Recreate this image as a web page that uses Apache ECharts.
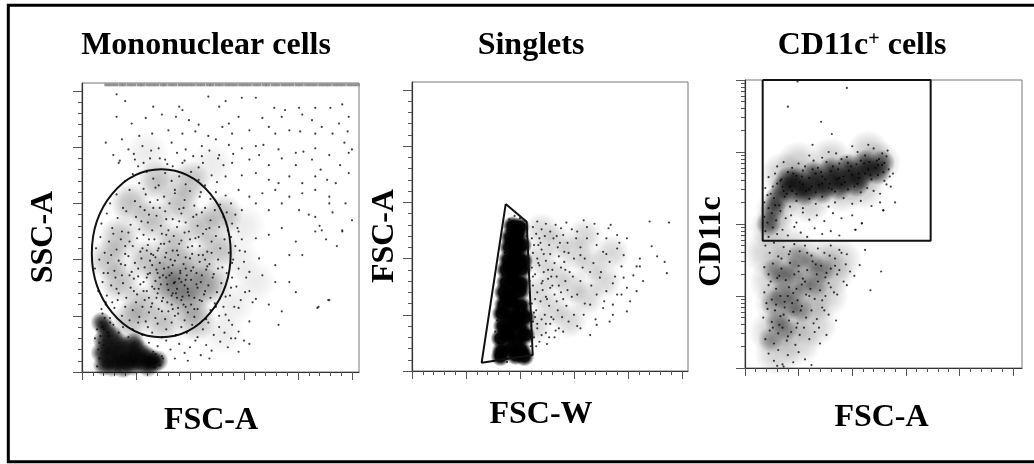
<!DOCTYPE html>
<html><head><meta charset="utf-8">
<script src="https://cdn.jsdelivr.net/npm/echarts@6/dist/echarts.min.js"></script>
<style>html,body{margin:0;padding:0;background:#fff}#c{width:1034px;height:464px}</style>
</head><body><div id="c"></div>
<script>
// ---------- Panel 1: Mononuclear cells (FSC-A vs SSC-A, linear, x1000) ----------
const p1Titles = ['Mononuclear cells', 'FSC-A', 'SSC-A'];
const p1XMax = 256.5, p1YMax = 257.1;
const p1XMajor = [0, 50, 100, 150, 200, 250];
const p1XMinor = [10,20,30,40,60,70,80,90,110,120,130,140,160,170,180,190,210,220,230,240];
const p1YMajor = [0, 50, 100, 150, 200, 250];
const p1YMinor = [10,20,30,40,60,70,80,90,110,120,130,140,160,170,180,190,210,220,230,240];
const p1Gate = [[73.4, 105.6, 64.3, 74.7]]; // ellipse: cx, cy, rx, ry
const p1SatY = 255.5;
const p1SatX = [23,27,31,36,39,44,48,53,56,61,65,69,74,77,82,86,91,95,99,103,108,112,117,120,125,129,134,138,142,147,151,155,160,164,169,172,177,181,186,190,194,199,203,208,212,216,221,225,229,234,238,242,247,251,255];
const p1Cloud = [[35,80],[35,120],[45,150],[55,60],[60,100],[65,135],[70,170],[80,75],[85,115],[90,150],[100,60],[105,95],[110,130],[120,80],[125,110],[75,45],[45,45],[105,45],[130,140],[85,95],[95,80],[75,85],[25,100],[100,170],[90,70],[110,75]];
const p1Spill = [[145,100],[160,80],[150,130],[140,60],[130,35],[120,185],[60,195]];
const p1Core = [[20,6],[24,12],[28,5],[30,18],[33,9],[36,14],[38,4],[40,22],[42,10],[45,16],[47,6],[50,12],[52,20],[55,8],[58,15],[61,5],[25,22],[20,28],[34,26],[48,26],[18,17],[63,12],[66,8],[70,10],[22,38],[28,32],[18,44]];
const p1Events = [
[32,247],[40,241],[66,236],[90,236],[93,233],[117,245],[127,236],[133,241],[148,244],[161,244],[178,235],[188,233],[201,235],[216,235],[230,235],[241,238],[247,227],[32,227],[46,221],[59,226],[74,229],[87,227],[99,224],[108,220],[136,221],[145,227],[167,226],[185,227],[204,229],[213,224],[222,218],[238,221],[246,214],[22,204],[37,207],[53,210],[65,212],[80,215],[93,212],[105,214],[117,210],[130,218],[139,212],[155,215],[173,218],[179,212],[192,215],[202,214],[216,212],[232,212],[243,204],[250,198],[29,193],[43,198],[56,201],[71,199],[83,204],[96,198],[111,201],[124,207],[136,202],[148,199],[161,201],[168,202],[182,198],[198,195],[205,196],[216,199],[229,193],[239,184],[247,195],[34,186],[49,189],[63,190],[77,189],[93,186],[111,192],[127,193],[139,186],[155,189],[164,193],[173,184],[185,190],[198,184],[213,189],[221,180],[227,171],[235,168],[247,177],[133,174],[148,175],[161,177],[173,171],[182,168],[192,174],[204,168],[216,174],[145,162],[155,156],[167,159],[179,162],[192,156],[204,159],[216,162],[229,156],[148,144],[161,150],[173,144],[185,150],[201,144],[216,138],[229,150],
[220,130],[232,142],[241,126],[226,118],[236,112],[244,150],[210,140],[250,135],[218,57],[228,64],
[145,125],[161,119],[173,122],[185,128],[198,116],[216,125],[222,126],[241,125],[151,107],[164,101],[179,95],[192,104],[204,104],[155,89],[167,86],[179,80],[192,80],[198,71],[151,71],[161,65],[173,60],[185,54],[182,42],[155,45],[142,30],[229,64],[219,58],[133,51],[139,42],[145,57],
[138,120],[142,112],[140,100],[145,92],[139,84],[143,76],[137,68],[147,64],[141,58],[150,98],[146,108],[152,84],[148,118],[144,128],[155,72],[158,62],[139,132],[134,142],[138,150],[142,140],
[35,188],[48,194],[57,186],[64,197],[72,190],[79,185],[88,195],[95,188],[103,192],[112,186],[118,197],[126,190],[131,184],[140,194],[52,183],[84,183],[108,182],
[40,170],[47,176],[53,168],[60,178],[66,172],[71,166],[77,177],[83,170],[90,174],[96,167],[101,178],[108,171],[114,166],[120,175],[125,169],[57,163],[86,162],[110,160],
[26,150],[32,158],[38,146],[44,162],[49,152],[54,147],[59,158],[63,151],[68,164],[72,146],[76,156],[81,150],[86,159],[90,145],[95,153],[100,161],[104,148],[109,156],[114,146],[119,154],[124,160],[128,149],[133,157],[70,153],
[18,132],[23,141],[28,128],[33,137],[37,125],[41,143],[45,131],[50,138],[53,127],[58,144],[61,133],[65,126],[69,139],[73,130],[77,143],[80,126],[84,136],[88,129],[92,141],[96,133],[99,125],[103,138],[107,130],[111,142],[115,127],[119,135],[123,144],[127,129],[131,138],[135,126],[62,140],[90,134],
[13,110],[17,120],[21,106],[25,116],[29,123],[32,109],[36,118],[40,105],[43,124],[47,112],[51,119],[54,107],[57,122],[61,113],[64,105],[67,118],[71,110],[74,123],[78,106],[81,116],[85,121],[88,108],[92,117],[95,124],[98,111],[102,105],[105,119],[109,112],[112,123],[116,107],[120,116],[124,121],[128,110],[132,118],[136,106],[44,116],[76,114],[100,118],[60,108],
[12,92],[16,100],[20,88],[24,97],[27,104],[30,90],[34,99],[37,86],[40,95],[43,103],[46,89],[49,97],[52,85],[55,101],[58,93],[61,87],[63,99],[66,104],[69,91],[72,97],[75,86],[77,102],[80,93],[83,88],[86,99],[89,104],[91,90],[94,96],[97,86],[100,101],[103,93],[106,88],[109,98],[112,104],[115,91],[118,96],[122,87],[126,100],[130,93],[134,88],[139,97],[70,88],[84,95],[96,92],[65,95],
[15,72],[19,80],[23,68],[27,77],[31,84],[34,70],[38,79],[41,66],[45,75],[48,83],[51,69],[54,78],[57,72],[60,84],[62,66],[65,76],[68,81],[70,70],[73,78],[75,66],[78,84],[80,73],[83,68],[85,79],[88,74],[90,83],[93,67],[95,77],[98,71],[101,82],[104,66],[107,75],[110,80],[113,69],[117,77],[121,84],[125,71],[129,79],[133,67],[138,75],[87,70],[92,80],[79,78],[71,74],
[19,52],[22,60],[26,48],[30,57],[33,64],[37,50],[40,58],[44,46],[47,55],[50,62],[53,49],[56,58],[59,45],[62,53],[65,61],[68,48],[71,56],[74,63],[77,47],[80,54],[83,60],[86,50],[89,57],[92,64],[95,46],[98,53],[101,60],[104,49],[107,56],[111,63],[115,47],[119,55],[123,61],[127,50],[131,58],[136,46],[84,56],[96,58],
[20,38],[25,32],[29,42],[34,35],[38,40],[43,31],[47,38],[52,44],[56,33],[61,40],[65,35],[70,43],[74,31],[78,38],[83,44],[87,33],[92,40],[97,35],[102,42],[107,31],[112,38],[117,44],[122,33],[127,40],[132,35],[138,30],[145,36],[150,28],
[62,26],[66,18],[70,23],[74,14],[78,28],[82,20],[86,12],[90,25],[95,17],[100,22],[105,28],[110,15],[115,24],[120,19],[128,27],[135,22],[145,18],[155,25],[98,10],[118,12],
[17,32],[19,40],[21,48],[18,56],[22,62],[24,35],[26,44],[16,26],[20,24],[14,5],[16,12],[15,20],[67,4],[72,6],[75,12],[68,16],[12,30],[14,38],
[52,92],[57,80],[63,88],[67,74],[72,84],[76,92],[81,86],[86,80],[91,88],[96,82],[101,90],[106,78],[111,86],[116,94],[58,64],[64,58],[69,66],[74,54],[79,62],[84,70],[89,52],[94,60],[99,68],[104,56],[109,64],[114,72],[119,66],[124,58],[56,110],[62,118],[68,102],[73,114],[78,122],[84,108],[90,114],[96,102],[102,112],[108,120],[114,100],[120,106],[126,92],[48,72],[44,86],[40,112],[36,96],[32,74],[28,62],[24,88],[55,134],[66,146],[78,136],[94,146],[106,140],[118,128],[82,100],[70,108],[88,66],[98,74],[60,72],[108,104]
];

// ---------- Panel 2: Singlets (FSC-W vs FSC-A) ----------
const p2Titles = ['Singlets', 'FSC-W', 'FSC-A'];
const p2XMax = 255.6, p2YMax = 257.1;
const p2XMajor = [0, 50, 100, 150, 200, 250];
const p2XMinor = [10,20,30,40,60,70,80,90,110,120,130,140,160,170,180,190,210,220,230,240];
const p2YMajor = [0, 50, 100, 150, 200, 250];
const p2YMinor = [10,20,30,40,60,70,80,90,110,120,130,140,160,170,180,190,210,220,230,240];
const p2Gate = [[86.8,148.6],[106.2,132.8],[111.8,14.2],[64.5,7.4],[86.8,148.6]];
const p2Cloud = [[114,40],[116,70],[118,100],[120,125],[130,55],[132,85],[134,115],[146,45],[148,75],[150,105],[162,65],[166,95],[178,80],[160,120],[185,105]];
const p2Core = [[83,18],[92,20],[101,19],[82,29],[90,31],[98,28],[105,32],[84,40],[92,41],[100,39],[83,51],[91,49],[99,52],[105,48],[85,59],[93,61],[101,58],[85,70],[92,68],[100,71],[87,79],[94,81],[101,78],[87,90],[94,88],[102,91],[89,99],[96,101],[103,98],[90,110],[97,108],[102,112],[91,119],[98,121],[93,129],[100,128],[82,13],[96,14],[104,13],[88,35],[96,45],[89,65],[97,75],[92,95],[95,115]];
const p2Events = [
[78,14],[82,10],[86,16],[95,12],[103,14],[107,18],[80,25],[77,35],[79,45],[81,55],[82,65],[83,75],[84,85],[85,95],[86,105],[87,115],[88,125],[90,135],[95,138],[100,136],[104,130],[106,120],[107,110],[108,100],[108,90],[109,80],[109,70],[109,60],[110,50],[110,40],[110,30],[110,22],[88,8],[99,9],[92,132],
[112,128],[116,133],[120,126],[124,131],[128,124],[133,130],[138,127],[143,132],
[111,118],[115,122],[119,114],[123,120],[127,112],[131,118],[135,110],[140,121],[144,114],
[112,105],[116,100],[120,108],[124,98],[128,104],[132,96],[136,102],[141,97],[145,105],
[111,92],[114,86],[118,94],[122,88],[126,82],[130,90],[134,84],[138,92],[142,80],[146,88],
[112,76],[116,70],[120,78],[124,66],[128,74],[132,68],[136,76],[140,64],[144,72],
[111,60],[115,54],[119,62],[123,50],[127,58],[131,46],[135,54],[139,48],[143,58],
[112,44],[116,38],[120,46],[124,34],[128,42],[132,30],[136,38],[113,30],[118,26],[125,24],[140,35],[145,44],[110,36],[114,48],[117,112],[121,72],[129,84],[134,120],
[148,126],[152,118],[150,100],[149,84],[148,66],[150,50],[153,40],[156,110],[158,92],[160,60],[162,128],[166,76],[168,96],[170,46],[172,122],[175,88],[178,62],[180,104],[184,130],[186,50],[188,84],[192,114],[194,68],
[159,134],[169,131],[182,127],[190,121],[199,118],[208,93],[211,93],[220,133],[238,132],[222,111],[227,102],[234,97],[236,87],[214,80],[196,83],[199,74],[186,78],[190,68],[202,62],[186,59],[177,56],[171,68],[165,59],[159,50],[171,41],[183,44],[165,32],[156,38],[199,53],[208,71],[194,93],[183,97],[177,106],[190,109],[171,112],[162,118],[153,124],[160,100],[165,88],[174,83],[180,71],[156,80],[153,68],[156,103],[180,118],[196,103],[205,85],[211,100],
[113,112],[117,96],[121,80],[125,64],[129,48],[133,36],[112,84],[114,64],[113,52],[118,118],[122,104],[126,90],[130,76],[134,62],[138,70],[142,90],[137,114],[141,106],[116,42],[120,32],[127,30],[111,28],[115,22],[124,42]
];

// ---------- Panel 3: CD11c+ cells (FSC-A vs CD11c, log10 y) ----------
const p3Titles = ['CD11c', '+', ' cells', 'FSC-A', 'CD11c'];
const p3XMax = 258.4, p3YMin = 1, p3YMax = 5;
const p3XMajor = [0, 50, 100, 150, 200, 250];
const p3XMinor = [10,20,30,40,60,70,80,90,110,120,130,140,160,170,180,190,210,220,230,240];
const p3YDecades = [1, 2, 3, 4, 5];
const p3LogSteps = [0.301, 0.477, 0.602, 0.699, 0.778, 0.845, 0.903, 0.954];
const p3Gate = [[16.5,5],[173.2,5],[173.2,2.768],[16.5,2.768],[16.5,5]];
const p3CloudUpper = [[30,3.2],[40,3.45],[55,3.6],[70,3.6],[85,3.65],[100,3.7],[115,3.75],[125,3.85],[25,2.95],[60,3.3],[90,3.45],[110,3.5],[50,3.85],[80,3.9],[115,4.0],[35,3.7]];
const p3CloudLower = [[30,1.9],[45,2.0],[40,1.6],[55,2.3],[35,2.4],[25,1.5],[60,1.9],[70,2.5],[30,1.2],[80,2.3],[45,2.65],[25,2.2],[50,1.35],[75,2.0],[65,1.6],[88,2.5],[20,2.6]];
const p3CoreUpper = [[44,3.45],[52,3.55],[60,3.5],[68,3.6],[76,3.55],[84,3.65],[92,3.6],[100,3.7],[108,3.66],[116,3.75],[124,3.72],[48,3.62],[64,3.7],[80,3.75],[96,3.8],[112,3.85],[56,3.42],[72,3.45],[88,3.5],[104,3.55],[36,3.5],[30,3.35],[26,3.2],[22,3.0],[40,3.62],[128,3.85]];
const p3CoreLower = [[26,1.9],[34,2.0],[42,1.85],[30,1.65],[38,1.55],[46,2.05],[52,1.8],[36,2.25],[44,2.35],[56,2.2],[62,2.45],[28,2.35],[24,1.4],[50,2.55],[66,2.15],[72,2.35]];
const p3Events = [
[60,3.95],[72,3.92],[85,3.98],[95,3.93],[105,4.0],[112,3.95],[120,4.05],[128,3.98],[133,4.02],[100,4.08],[115,4.1],[78,4.0],[90,3.9],[125,3.9],[130,3.85],
[30,3.8],[36,3.86],[44,3.78],[50,3.84],[56,3.8],[64,3.88],[68,3.78],[76,3.86],[82,3.8],[88,3.84],[96,3.85],[104,3.83],[108,3.88],[116,3.86],[122,3.78],[128,3.82],[134,3.76],
[22,3.65],[28,3.7],[34,3.62],[40,3.72],[48,3.67],[54,3.74],[60,3.64],[66,3.7],[72,3.66],[80,3.73],[86,3.62],[92,3.66],[100,3.68],[106,3.64],[112,3.7],[118,3.62],[124,3.68],[130,3.6],[135,3.66],
[19,3.5],[24,3.42],[30,3.56],[36,3.46],[42,3.52],[48,3.42],[54,3.55],[60,3.48],[66,3.44],[72,3.56],[78,3.5],[84,3.45],[90,3.55],[96,3.48],[102,3.52],[108,3.44],[114,3.5],[120,3.46],[126,3.42],[132,3.55],
[18,3.3],[22,3.22],[27,3.36],[32,3.26],[37,3.38],[42,3.24],[48,3.32],[54,3.22],[60,3.35],[66,3.28],[72,3.38],[78,3.24],[84,3.3],[92,3.36],[100,3.28],[108,3.32],[118,3.25],[126,3.3],[129,3.19],
[18,3.1],[21,3.02],[25,3.15],[29,3.05],[33,3.18],[38,3.08],[43,3.12],[48,3.02],[54,3.16],[60,3.06],[67,3.12],[74,3.04],[82,3.15],[90,3.08],[100,3.12],[109,3.01],
[19,2.9],[22,2.82],[26,2.95],[30,2.86],[35,2.92],[40,2.84],[46,2.96],[52,2.88],[58,2.82],[65,2.94],[72,2.86],[80,2.9],[88,2.84],[103,2.92],
[19,2.7],[23,2.6],[27,2.74],[31,2.55],[36,2.68],[41,2.58],[46,2.72],[51,2.62],[56,2.7],[62,2.56],[68,2.66],[74,2.6],[80,2.7],[88,2.64],[95,2.58],[112,2.64],[107,2.43],[84,2.52],
[18,2.4],[22,2.3],[26,2.45],[30,2.25],[34,2.38],[38,2.22],[42,2.46],[46,2.3],[50,2.42],[54,2.24],[58,2.36],[63,2.48],[67,2.3],[71,2.42],[75,2.26],[80,2.38],[86,2.3],[92,2.2],[98,2.34],[102,2.28],
[18,2.05],[22,2.15],[25,1.95],[29,2.1],[33,2.0],[37,1.92],[41,2.12],[45,2.04],[49,1.94],[53,2.16],[57,2.02],[61,2.1],[65,1.96],[70,2.08],[75,2.0],[80,2.12],[86,2.02],[117,2.08],[95,2.15],
[17,1.7],[21,1.82],[25,1.64],[29,1.88],[33,1.72],[37,1.84],[41,1.66],[45,1.78],[49,1.62],[53,1.86],[57,1.7],[62,1.8],[67,1.68],[72,1.84],[78,1.74],[85,1.66],
[19,1.4],[23,1.52],[27,1.34],[31,1.48],[35,1.56],[39,1.38],[43,1.5],[47,1.32],[51,1.46],[55,1.56],[60,1.4],[65,1.5],[70,1.34],[76,1.46],
[22,1.2],[27,1.1],[31,1.25],[35,1.05],[40,1.18],[45,1.08],[50,1.22],[56,1.12],[62,1.04],[36,1.02],[30,1.03],
[71,4.42],[81,4.25],[40,4.63],[49,4.98],[95,4.89],[63,4.1],
[127,2.34],[109,3.01],[103,2.92],[129,3.19],[140,3.3],[136,3.52],[138,3.7],
[26,3.52],[33,3.6],[39,3.42],[45,3.7],[51,3.58],[57,3.46],[63,3.76],[69,3.54],[75,3.62],[81,3.48],[87,3.76],[93,3.58],[99,3.8],[105,3.56],[111,3.84],[117,3.68],[123,3.88],[129,3.72],[21,3.4],[28,3.26],[35,3.52],[44,3.46],[53,3.66],[62,3.52],[71,3.72],[79,3.56],[88,3.64],[97,3.74],[106,3.7],[115,3.76],[124,3.82],[132,3.94],
[24,2.2],[32,2.28],[40,2.0],[48,2.1],[56,2.2],[28,1.8],[36,1.74],[44,1.9],[52,1.8],[60,2.0],[68,2.2],[76,2.32],[84,2.42],[32,1.6],[40,1.44],[48,1.56],[26,1.56],[34,2.52],[42,2.62],[50,2.34],[20,1.9],[64,1.62],[72,1.94],[58,2.6],[66,2.44],
[78,2.18],[83,2.05],[88,2.36],[74,1.8],[69,1.56],[90,2.6],[79,2.56],[94,2.44]
];

// ---------- build ----------
const FONT = 'Liberation Serif';
const tickLine = {color: '#555', width: 1};
function xAxes(gi, max, major, minor) {
  return [
    {gridIndex: gi, type: 'value', position: 'bottom', min: 0, max: max,
     axisLine: {show: true, onZero: false, lineStyle: {color: '#333', width: 1.2}},
     axisTick: {show: true, length: 8, customValues: major, lineStyle: tickLine},
     axisLabel: {show: false}, splitLine: {show: false}},
    {gridIndex: gi, type: 'value', position: 'bottom', min: 0, max: max,
     axisLine: {show: false},
     axisTick: {show: true, length: 4, customValues: minor, lineStyle: tickLine},
     axisLabel: {show: false}, splitLine: {show: false}}
  ];
}
function yAxes(gi, min, max, major, minor) {
  return [
    {gridIndex: gi, type: 'value', position: 'left', min: min, max: max,
     axisLine: {show: true, onZero: false, lineStyle: {color: '#333', width: 1.2}},
     axisTick: {show: true, length: 9, customValues: major, lineStyle: tickLine},
     axisLabel: {show: false}, splitLine: {show: false}},
    {gridIndex: gi, type: 'value', position: 'left', min: min, max: max,
     axisLine: {show: false},
     axisTick: {show: true, length: 4, customValues: minor, lineStyle: tickLine},
     axisLabel: {show: false}, splitLine: {show: false}}
  ];
}
const p3YMinor = [];
p3YDecades.slice(0, 4).forEach(d => p3LogSteps.forEach(s => p3YMinor.push(d + s)));

function soft(alpha) {
  return {type: 'radial', x: 0.5, y: 0.5, r: 0.5, colorStops: [
    {offset: 0, color: 'rgba(0,0,0,' + alpha + ')'},
    {offset: 0.45, color: 'rgba(0,0,0,' + (alpha * 0.75) + ')'},
    {offset: 1, color: 'rgba(0,0,0,0)'}]};
}
function solid(alpha) {
  return {type: 'radial', x: 0.5, y: 0.5, r: 0.5, colorStops: [
    {offset: 0, color: 'rgba(0,0,0,' + alpha + ')'},
    {offset: 0.55, color: 'rgba(0,0,0,' + (alpha * 0.95) + ')'},
    {offset: 1, color: 'rgba(0,0,0,0)'}]};
}
function scatter(gi, data, size, color, opacity, symbol) {
  return {type: 'scatter', xAxisIndex: 2 * gi, yAxisIndex: 2 * gi, data: data,
    symbol: symbol || 'circle', symbolSize: size, silent: true,
    itemStyle: {color: color, opacity: opacity}};
}
function gateLine(gi, data) {
  return {type: 'line', xAxisIndex: 2 * gi, yAxisIndex: 2 * gi, data: data,
    showSymbol: false, symbol: 'none', clip: false, silent: true,
    lineStyle: {color: '#111', width: 2}};
}

const chart = echarts.init(document.getElementById('c'), null, {renderer: 'canvas'});
const gridStyle = {show: true, borderColor: '#777', borderWidth: 1, backgroundColor: 'transparent'};
const titleFont = {fontFamily: FONT, fontWeight: 'bold', fontSize: 32, fill: '#000'};
function label(x, y, text, rot) {
  return {type: 'text', x: x, y: y, rotation: rot || 0,
    style: Object.assign({text: text, textAlign: 'center', textVerticalAlign: 'middle'}, titleFont)};
}

chart.setOption({
  animation: false,
  grid: [
    Object.assign({left: 82, top: 83, width: 277, height: 289}, gridStyle),
    Object.assign({left: 412, top: 82, width: 276, height: 289}, gridStyle),
    Object.assign({left: 745, top: 80, width: 277, height: 288}, gridStyle)
  ],
  xAxis: [].concat(xAxes(0, p1XMax, p1XMajor, p1XMinor), xAxes(1, p2XMax, p2XMajor, p2XMinor), xAxes(2, p3XMax, p3XMajor, p3XMinor)),
  yAxis: [].concat(yAxes(0, 0, p1YMax, p1YMajor, p1YMinor), yAxes(1, 0, p2YMax, p2YMajor, p2YMinor), yAxes(2, p3YMin, p3YMax, p3YDecades, p3YMinor)),
  series: [
    scatter(0, p1Spill, 44, soft(0.08), 1),
    scatter(0, p1Cloud, 42, soft(0.25), 1),
    scatter(0, p1SatX.map(x => [x, p1SatY]), [5, 3], '#888', 0.9, 'rect'),
    scatter(0, p1Core, 22, soft(0.85), 1),
    scatter(0, p1Events, 2.2, '#000', 0.75),
    {type: 'custom', xAxisIndex: 0, yAxisIndex: 0, data: p1Gate, clip: false, silent: true,
     encode: {x: 0, y: 1},
     renderItem: function (params, api) {
       const c = api.coord([api.value(0), api.value(1)]);
       const s = api.size([api.value(2), api.value(3)]);
       return {type: 'ellipse', shape: {cx: c[0], cy: c[1], rx: s[0], ry: s[1]},
               style: {fill: 'none', stroke: '#111', lineWidth: 2}};
     }},
    scatter(1, p2Cloud, 36, soft(0.16), 1),
    scatter(1, p2Core, 20, solid(1), 1),
    scatter(1, p2Events, 2.2, '#000', 0.75),
    gateLine(1, p2Gate),
    scatter(2, p3CloudUpper, 44, soft(0.2), 1),
    scatter(2, p3CloudLower, 46, soft(0.18), 1),
    scatter(2, p3CoreUpper, 26, soft(0.6), 1),
    scatter(2, p3CoreLower, 26, soft(0.32), 1),
    scatter(2, p3Events, 2.2, '#000', 0.75),
    gateLine(2, p3Gate)
  ],
  graphic: [
    {type: 'rect', shape: {x: 8.3, y: 5.3, width: 1050, height: 456.4},
     style: {fill: 'none', stroke: '#000', lineWidth: 3}, silent: true},
    label(206, 46, p1Titles[0]),
    label(211, 421, p1Titles[1]),
    label(43.5, 237, p1Titles[2], Math.PI / 2),
    label(531, 46, p2Titles[0]),
    label(541, 415, p2Titles[1]),
    label(385, 236, p2Titles[2], Math.PI / 2),
    {type: 'text', x: 862, y: 46,
     style: {text: '{a|' + p3Titles[0] + '}{b|' + p3Titles[1] + '}{a|' + p3Titles[2] + '}',
       textAlign: 'center', textVerticalAlign: 'middle', fill: '#000',
       rich: {a: {fontFamily: FONT, fontWeight: 'bold', fontSize: 32},
              b: {fontFamily: FONT, fontWeight: 'bold', fontSize: 20, verticalAlign: 'top'}}}},
    label(881.5, 417.5, p3Titles[3]),
    label(711.5, 241.5, p3Titles[4], Math.PI / 2)
  ]
});
</script></body></html>
